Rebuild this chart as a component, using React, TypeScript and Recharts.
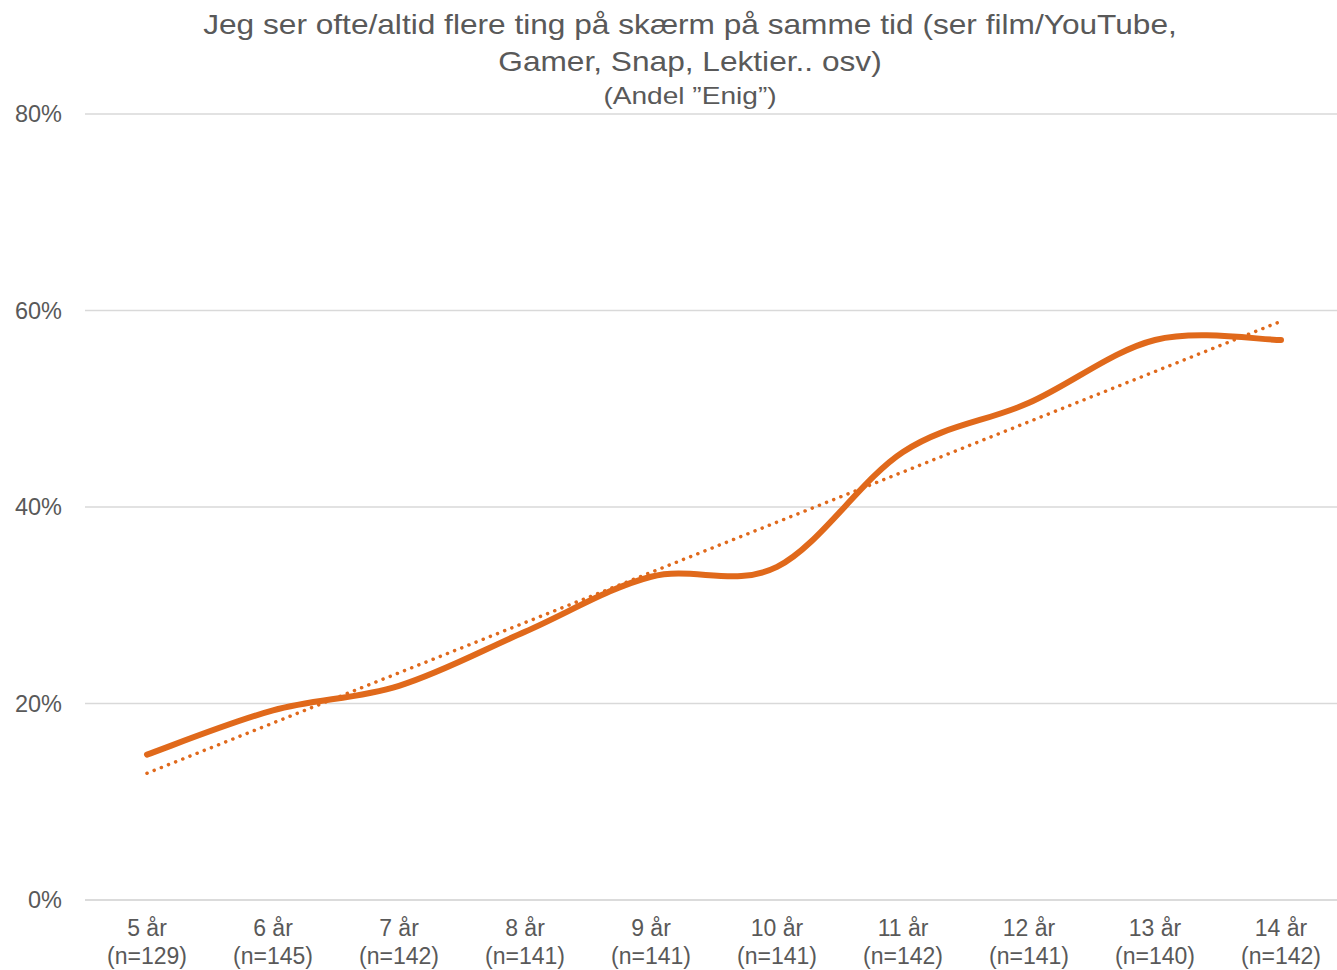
import { LineChart, Line, XAxis, YAxis, CartesianGrid } from 'recharts';

const ages = ['5 år', '6 år', '7 år', '8 år', '9 år', '10 år', '11 år', '12 år', '13 år', '14 år'];
const counts = ['(n=129)', '(n=145)', '(n=142)', '(n=141)', '(n=141)', '(n=141)', '(n=142)', '(n=141)', '(n=140)', '(n=142)'];
const enig = [14.8, 19.3, 21.8, 27.3, 32.9, 33.9, 45.6, 50.6, 57.0, 57.0];
// linear trendline (only ends drawn)
const trend = [12.9, null, null, null, null, null, null, null, null, 58.9];
const yTicks = [0, 20, 40, 60, 80];

const data = ages.map((age, i) => ({ age, n: counts[i], enig: enig[i], trend: trend[i] }));

const ORANGE = '#E0691B';
const FONT = '"Liberation Sans", Arial, sans-serif';

// Excel-style smoothed line (Catmull-Rom through the points)
const smoothCurve = (context: any) => {
  let xs: number[] = [];
  let ys: number[] = [];
  return {
    areaStart() {},
    areaEnd() {},
    lineStart() {
      xs = [];
      ys = [];
    },
    point(x: number, y: number) {
      xs.push(+x);
      ys.push(+y);
    },
    lineEnd() {
      const n = xs.length;
      if (!n) return;
      context.moveTo(xs[0], ys[0]);
      for (let i = 0; i < n - 1; i++) {
        const x0 = i > 0 ? xs[i - 1] : xs[i];
        const y0 = i > 0 ? ys[i - 1] : ys[i];
        const x3 = i + 2 < n ? xs[i + 2] : xs[i + 1];
        const y3 = i + 2 < n ? ys[i + 2] : ys[i + 1];
        context.bezierCurveTo(
          xs[i] + (xs[i + 1] - x0) / 6,
          ys[i] + (ys[i + 1] - y0) / 6,
          xs[i + 1] - (x3 - xs[i]) / 6,
          ys[i + 1] - (y3 - ys[i]) / 6,
          xs[i + 1],
          ys[i + 1]
        );
      }
    },
  };
};

const AgeTick = ({ x, y, payload, index }: any) => (
  <text x={x} y={y} textAnchor="middle" fill="#595959" fontSize={23} fontFamily={FONT}>
    <tspan x={x} dy={28}>{payload.value}</tspan>
    <tspan x={x} dy={28}>{counts[index]}</tspan>
  </text>
);

const App = () => (
  <div style={{ position: 'absolute', left: 0, top: 0, width: 1337, height: 970, background: '#fff', fontFamily: FONT }}>
    <div style={{ position: 'absolute', left: 0, width: 1380, top: 6, textAlign: 'center', color: '#595959', fontSize: 28, lineHeight: '37px', transform: 'scaleX(1.13)', transformOrigin: '690px 0' }}>
      Jeg ser ofte/altid flere ting på skærm på samme tid (ser film/YouTube,
      <br />
      Gamer, Snap, Lektier.. osv)
    </div>
    <div style={{ position: 'absolute', left: 0, width: 1380, top: 82, textAlign: 'center', color: '#595959', fontSize: 24, lineHeight: '28px', transform: 'scaleX(1.17)', transformOrigin: '690px 0' }}>
      (Andel ”Enig”)
    </div>
    <LineChart width={1337} height={970} data={data} margin={{ top: 114, right: 0, bottom: 0, left: 0 }}>
      <CartesianGrid vertical={false} stroke="#d9d9d9" strokeWidth={1.5} />
      <XAxis
        dataKey="age"
        height={70}
        axisLine={{ stroke: '#d9d9d9', strokeWidth: 1.5 }}
        tickLine={false}
        interval={0}
        padding={{ left: 62, right: 56 }}
        tick={<AgeTick />}
      />
      <YAxis
        width={85}
        domain={[0, 80]}
        ticks={yTicks}
        axisLine={false}
        tickLine={false}
        tickMargin={17}
        tickFormatter={(v: number) => `${v}%`}
        tick={{ fontSize: 23.5, fill: '#595959', fontFamily: FONT }}
      />
      <Line
        dataKey="trend"
        type="linear"
        connectNulls
        stroke={ORANGE}
        strokeWidth={3.5}
        strokeDasharray="0.1 7.6"
        strokeLinecap="round"
        dot={false}
        activeDot={false}
        isAnimationActive={false}
      />
      <Line
        dataKey="enig"
        type={smoothCurve as any}
        stroke={ORANGE}
        strokeWidth={6}
        strokeLinecap="round"
        dot={false}
        activeDot={false}
        isAnimationActive={false}
      />
    </LineChart>
  </div>
);

export default App;
